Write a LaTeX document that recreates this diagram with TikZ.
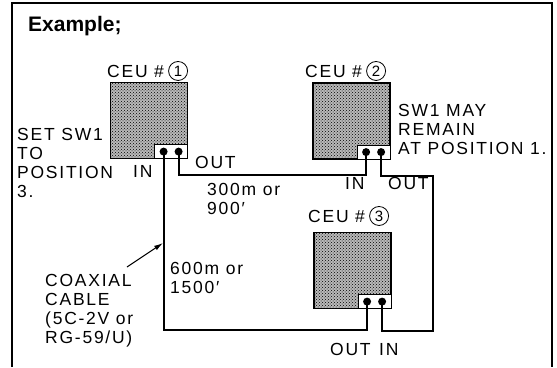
\documentclass[tikz,border=0pt]{standalone}
\usepackage{fontspec}
\setmainfont{Liberation Sans}[LetterSpace=10]
\newfontfamily\plainsans{Liberation Sans}
\usetikzlibrary{arrows.meta, positioning, patterns}

\begin{document}
\begin{tikzpicture}[x=1pt, y=-1pt, >=Latex,
  lbl/.style={font=\fontsize{17.5}{19}\selectfont, inner sep=0pt, anchor=base west, align=left},
  unit/.style={draw, line width=1.2pt, minimum width=77pt, minimum height=76pt, inner sep=0pt,
    preaction={fill=gray!55}, pattern=crosshatch dots, pattern color=black},
  portbox/.style={draw, fill=white, line width=1pt, minimum width=33pt, minimum height=14pt, inner sep=0pt},
  jack/.style={circle, fill=black, minimum size=8pt, inner sep=0pt},
  cnum/.style={circle, draw, line width=0.8pt, minimum size=19pt, inner sep=0pt, font=\plainsans\fontsize{15}{15}\selectfont},
  wire/.style={line width=1.8pt},
  pointer/.style={line width=1pt, -{Latex[length=9pt, width=5pt]}}]
  \useasboundingbox (0,0) rectangle (557,367);
  % frame
  \draw[line width=1.2pt] (12,367) -- (12,3) -- (552,3) -- (552,367);
  \node[lbl, font=\plainsans\bfseries\fontsize{21}{22}\selectfont] (title) at (28,31) {Example;};

  % control units
  \node[unit] (ceuA) at (149,120.5) {};
  \node[unit] (ceuB) at (351.5,121) {};
  \node[unit] (ceuC) at (352.5,270.5) {};
  \node[portbox, anchor=south east] (portA) at (ceuA.south east) {};
  \node[portbox, anchor=south east] (portB) at (ceuB.south east) {};
  \node[portbox, anchor=south east] (portC) at (ceuC.south east) {};
  \node[jack] (inA) at ([xshift=-7.5pt]portA.center) {};
  \node[jack] (outA) at ([xshift=7.5pt]portA.center) {};
  \node[jack] (inB) at ([xshift=-7.5pt]portB.center) {};
  \node[jack] (outB) at ([xshift=7.5pt]portB.center) {};
  \node[jack] (outC) at ([xshift=-7.5pt]portC.center) {};
  \node[jack] (inC) at ([xshift=7.5pt]portC.center) {};

  % unit titles
  \node[lbl] (ceuAlbl) at (107,77) {CEU \#};
  \node[cnum, right=4pt of ceuAlbl] (numA) {1};
  \node[lbl] (ceuBlbl) at (305,77) {CEU \#};
  \node[cnum, right=4pt of ceuBlbl] (numB) {2};
  \node[lbl] (ceuClbl) at (308,222) {CEU \#};
  \node[cnum, right=4pt of ceuClbl] (numC) {3};

  % cables
  \coordinate (turnB) at (433,176);
  \coordinate (turnC) at (433,331);
  \draw[wire] (outA.center) -- ++(0,23) -| (inB.center);
  \draw[wire] (inA.center) -- ++(0,178) -| (outC.center);
  \draw[wire] (outB.center) |- (turnB) -- (turnC) -| (inC.center);
  \coordinate (tap) at (163,243);
  \coordinate (tail) at (127,267);
  \draw[pointer] (tail) -- (tap);

  % texts (multi-line ones sit on their last baseline)
  \node[lbl] (setA) at (17,197) {SET SW1\\TO\\POSITION\\3.};
  \node[lbl] (inAlbl) at (133,177) {IN};
  \node[lbl] (outAlbl) at (195,168) {OUT};
  \node[lbl] (lenAB) at (207,214) {300m or\\900′};
  \node[lbl] (noteB) at (398,154) {SW1 MAY\\REMAIN\\AT POSITION 1.};
  \node[lbl] (inBlbl) at (345,189) {IN};
  \node[lbl] (outBlbl) at (388,189) {OUT};
  \node[lbl] (lenAC) at (170,293) {600m or\\1500′};
  \node[lbl] (coax) at (45,343) {COAXIAL\\CABLE\\(5C-2V or\\RG-59/U)};
  \node[lbl] (outClbl) at (330,355) {OUT};
  \node[lbl] (inClbl) at (379,355) {IN};
\end{tikzpicture}
\end{document}
